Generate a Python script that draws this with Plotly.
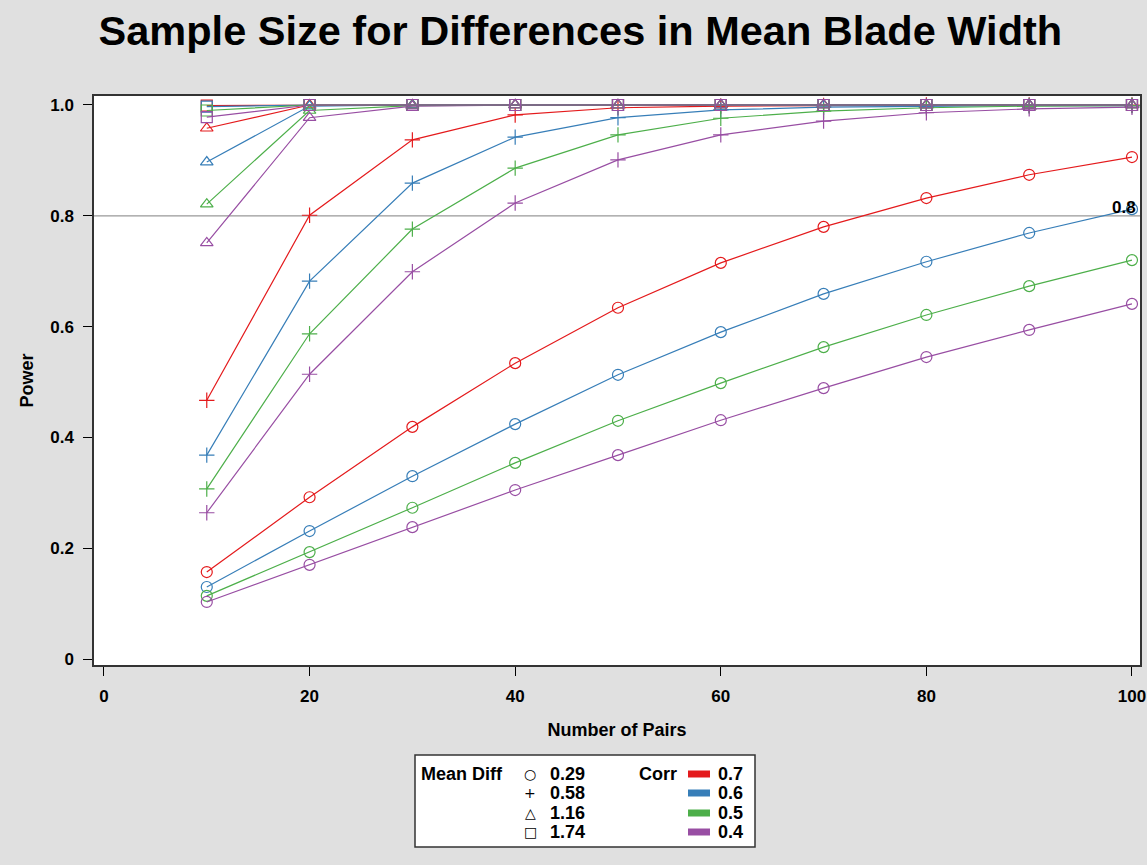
import plotly.graph_objects as go

n_pairs = [10, 20, 30, 40, 50, 60, 70, 80, 90, 100]
corr_levels = ["0.7", "0.6", "0.5", "0.4"]
diff_levels = ["0.29", "0.58", "1.16", "1.74"]
corr_colors = ["#E41A1C", "#377EB8", "#4DAF4A", "#984EA3"]
diff_symbols = ["circle-open", "cross-thin-open", "triangle-up-open", "square-open"]

# Power values, keyed by mean difference, lists ordered by corr 0.7, 0.6, 0.5, 0.4
power_diff_029 = [
    [0.157, 0.292, 0.419, 0.534, 0.634, 0.715, 0.780, 0.832, 0.874, 0.906],
    [0.130, 0.231, 0.330, 0.424, 0.513, 0.590, 0.659, 0.717, 0.769, 0.812],
    [0.114, 0.193, 0.273, 0.354, 0.430, 0.498, 0.563, 0.621, 0.673, 0.720],
    [0.103, 0.170, 0.238, 0.305, 0.368, 0.431, 0.489, 0.545, 0.594, 0.641],
]
power_diff_058 = [
    [0.467, 0.801, 0.937, 0.982, 0.995, 0.998, 0.999, 1.000, 1.000, 1.000],
    [0.368, 0.682, 0.859, 0.942, 0.977, 0.991, 0.996, 0.998, 0.999, 0.999],
    [0.307, 0.587, 0.776, 0.886, 0.946, 0.976, 0.989, 0.995, 0.998, 0.999],
    [0.264, 0.514, 0.699, 0.823, 0.901, 0.946, 0.971, 0.986, 0.993, 0.996],
]
power_diff_116 = [
    [0.958, 1.000, 1.000, 1.000, 1.000, 1.000, 1.000, 1.000, 1.000, 1.000],
    [0.897, 0.998, 1.000, 1.000, 1.000, 1.000, 1.000, 1.000, 1.000, 1.000],
    [0.821, 0.990, 0.999, 1.000, 1.000, 1.000, 1.000, 1.000, 1.000, 1.000],
    [0.751, 0.977, 0.998, 1.000, 1.000, 1.000, 1.000, 1.000, 1.000, 1.000],
]
power_diff_174 = [
    [0.999, 1.000, 1.000, 1.000, 1.000, 1.000, 1.000, 1.000, 1.000, 1.000],
    [0.997, 1.000, 1.000, 1.000, 1.000, 1.000, 1.000, 1.000, 1.000, 1.000],
    [0.990, 1.000, 1.000, 1.000, 1.000, 1.000, 1.000, 1.000, 1.000, 1.000],
    [0.978, 1.000, 1.000, 1.000, 1.000, 1.000, 1.000, 1.000, 1.000, 1.000],
]
power_by_diff = [power_diff_029, power_diff_058, power_diff_116, power_diff_174]

x_ticks = [0, 20, 40, 60, 80, 100]
y_ticks = [0, 0.2, 0.4, 0.6, 0.8, 1.0]
y_tick_text = ["0", "0.2", "0.4", "0.6", "0.8", "1.0"]
ref_power = 0.8

FONT = "Liberation Sans, Arial, sans-serif"
W, H = 1147, 865
L, R, T, B = 94, 7, 96, 200

fig = go.Figure()
for di, series in enumerate(power_by_diff):
    for ci, ys in enumerate(series):
        fig.add_trace(go.Scatter(
            x=n_pairs, y=ys, mode="lines+markers",
            line=dict(color=corr_colors[ci], width=1.2),
            marker=dict(symbol=diff_symbols[di], size=11, color=corr_colors[ci],
                        line=dict(width=1.2, color=corr_colors[ci])),
            name=f"Mean Diff {diff_levels[di]}, Corr {corr_levels[ci]}",
            showlegend=False,
        ))

fig.add_hline(y=ref_power, line=dict(color="#999999", width=1.3), layer="below")
fig.add_annotation(x=100.6, y=ref_power, xref="x", yref="y", text="<b>0.8</b>",
                   showarrow=False, xanchor="right", yanchor="bottom",
                   font=dict(family=FONT, size=17, color="black"), yshift=-3)

pw = W - L - R
ph = H - T - B

def px(xp):
    return (xp - L) / pw

def py(yp):
    return (H - B - yp) / ph

# Legend box
fig.add_shape(type="rect", xref="paper", yref="paper",
              x0=px(415), x1=px(755), y0=py(847), y1=py(755),
              line=dict(color="#333333", width=1.5), fillcolor="white")
legend_font = dict(family=FONT, size=18, color="black")
row_y = [774, 793, 813, 832]
fig.add_annotation(xref="paper", yref="paper", x=px(419), y=py(row_y[0]),
                   text="<b>Mean Diff</b>", showarrow=False, xanchor="left",
                   yanchor="middle", font=legend_font)
fig.add_annotation(xref="paper", yref="paper", x=px(637), y=py(row_y[0]),
                   text="<b>Corr</b>", showarrow=False, xanchor="left",
                   yanchor="middle", font=legend_font)
sym_chars = ["○", "+", "△", "□"]
for i in range(4):
    fig.add_annotation(xref="paper", yref="paper", x=px(530), y=py(row_y[i]),
                       text=sym_chars[i], showarrow=False, xanchor="center",
                       yanchor="middle", font=dict(family="DejaVu Sans", size=14, color="black"))
    fig.add_annotation(xref="paper", yref="paper", x=px(548), y=py(row_y[i]),
                       text=f"<b>{diff_levels[i]}</b>", showarrow=False, xanchor="left",
                       yanchor="middle", font=legend_font)
    fig.add_shape(type="rect", xref="paper", yref="paper",
                  x0=px(688), x1=px(710), y0=py(row_y[i] + 3.5), y1=py(row_y[i] - 3.5),
                  line=dict(width=0), fillcolor=corr_colors[i])
    fig.add_annotation(xref="paper", yref="paper", x=px(716), y=py(row_y[i]),
                       text=f"<b>{corr_levels[i]}</b>", showarrow=False, xanchor="left",
                       yanchor="middle", font=legend_font)

fig.update_layout(
    width=W, height=H,
    margin=dict(l=L, r=R, t=T, b=B, autoexpand=False),
    paper_bgcolor="#E0E0E0", plot_bgcolor="white",
    title=dict(text="<b>Sample Size for Differences in Mean Blade Width</b>",
               x=0.506, xanchor="center", y=0.965, yanchor="middle",
               font=dict(family=FONT, size=41.5, color="black")),
    font=dict(family=FONT, color="black"),
)
fig.update_xaxes(
    range=[-0.97, 100.78], tickvals=x_ticks,
    ticktext=[f"<b>{v}</b>" for v in x_ticks],
    ticks="outside", ticklen=9, tickwidth=1.2, tickcolor="black",
    ticklabelstandoff=6, automargin=False,
    showline=True, linecolor="#333333", linewidth=1.5, mirror=True,
    showgrid=False, zeroline=False,
    tickfont=dict(family=FONT, size=17),
    title=dict(text="<b>Number of Pairs</b>", font=dict(family=FONT, size=18), standoff=18),
)
fig.update_yaxes(
    range=[-0.0108, 1.0162], tickvals=y_ticks,
    ticktext=[f"<b>{t}</b>" for t in y_tick_text],
    ticks="outside", ticklen=9, tickwidth=1.2, tickcolor="black",
    ticklabelstandoff=6, automargin=False,
    showline=True, linecolor="#333333", linewidth=1.5, mirror=True,
    showgrid=False, zeroline=False,
    tickfont=dict(family=FONT, size=17),
    title=dict(text="<b>Power</b>", font=dict(family=FONT, size=18), standoff=12),
)

fig.write_html("out.html", config={"displayModeBar": False},
               post_script="document.body.style.margin='0';document.body.style.overflow='hidden';")
